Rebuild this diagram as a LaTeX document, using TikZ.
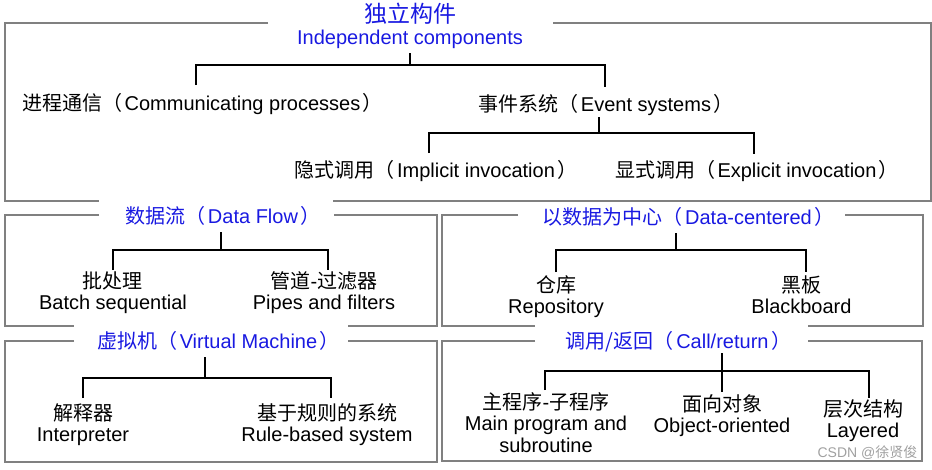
\documentclass[tikz,border=0pt]{standalone}
\usepackage{fontspec}
\setmainfont{Liberation Sans}
\newfontfamily\cjk{Noto Sans CJK SC}
\newcommand{\zh}[1]{{\cjk #1}}
\newcommand{\lpar}{{\cjk （}\hspace{2.5pt}}
\newcommand{\rpar}{\hspace{2.5pt}{\cjk ）}}
\definecolor{ttl}{RGB}{25,25,225}
\definecolor{frm}{RGB}{128,128,128}
\definecolor{wmk}{RGB}{160,160,160}
\begin{document}
\begin{tikzpicture}[x=1pt,y=-1pt,
  frame/.style={draw=frm,line width=1.3pt},
  conn/.style={draw=black,line width=1.8pt},
  txt/.style={font=\fontsize{20}{21.5}\selectfont,inner xsep=0pt},
  one/.style={txt,text height=18pt,text depth=5pt},
  kid/.style={txt,anchor=north,align=center},
  kidone/.style={one,anchor=north},
  ttlnode/.style={one,anchor=base,text=ttl,inner ysep=4pt},
]
\useasboundingbox (0,0) rectangle (932,469);

% frames with gaps
\draw[frame] (268,23) -- (5,23) -- (5,201) -- (99,201);
\draw[frame] (333,201) -- (931,201) -- (931,23) -- (553,23);
\draw[frame] (99,215) -- (5,215) -- (5,326) -- (74,326);
\draw[frame] (348,326) -- (437,326) -- (437,215) -- (334,215);
\draw[frame] (74,341) -- (5,341) -- (5,462) -- (437,462) -- (437,341) -- (348,341);
\draw[frame] (518,215) -- (442,215) -- (442,326) -- (535,326);
\draw[frame] (808,326) -- (923,326) -- (923,215) -- (845,215);
\draw[frame] (535,341) -- (442,341) -- (442,461) -- (922,461) -- (922,341) -- (808,341);

% titles
\node[txt,align=center,text=ttl,anchor=south,inner ysep=4pt] (ic) at (410,53)
  {{\cjk\fontsize{23}{23}\selectfont 独立构件}\\[1pt]Independent components};
\node[ttlnode] (dfT) at (223,223) {\zh{数据流}\lpar Data Flow\rpar};
\node[ttlnode] (vmT) at (218.5,348) {\zh{虚拟机}\lpar Virtual Machine\rpar};
\node[ttlnode] (dcT) at (688.5,224) {\zh{以数据为中心}\lpar Data-centered\rpar};
\node[ttlnode,inner ysep=0pt] (crT) at (678.5,348) {\zh{调用/返回}\lpar Call/return\rpar};

% top box children
\node[kidone,inner ysep=7pt] (cp) at (202.5,85) {\zh{进程通信}\lpar Communicating processes\rpar};
\node[kidone,inner ysep=6pt,text depth=0pt] (es) at (606,87) {\zh{事件系统}\lpar Event systems\rpar};
\node[kidone,inner ysep=6pt] (ii) at (436,153) {\zh{隐式调用}\lpar Implicit invocation\rpar};
\node[kidone,inner ysep=5pt] (ei) at (757,154) {\zh{显式调用}\lpar Explicit invocation\rpar};

% data flow children
\node[kid,inner ysep=0pt] (bs) at (113,270) {\rule{0pt}{18pt}\zh{批处理}\\Batch sequential};
\node[kid,inner ysep=0pt] (pf) at (324,270) {\rule{0pt}{18pt}\zh{管道}-\zh{过滤器}\\Pipes and filters};

% virtual machine children
\node[kid,inner ysep=4pt] (ip) at (83,398) {\rule{0pt}{18pt}\zh{解释器}\\Interpreter};
\node[kid,inner ysep=4pt] (rb) at (327,398) {\rule{0pt}{18pt}\zh{基于规则的系统}\\Rule-based system};

% data-centered children
\node[kid,inner ysep=2pt] (rp) at (556,272) {\rule{0pt}{18pt}\zh{仓库}\\Repository};
\node[kid,inner ysep=2pt] (bb) at (801.5,272) {\rule{0pt}{18pt}\zh{黑板}\\Blackboard};

% call/return children
\node[kid,inner ysep=1pt] (mp) at (546,390) {\rule{0pt}{18pt}\zh{主程序}-\zh{子程序}\\Main program and\\subroutine};
\node[kid,inner ysep=1pt] (oo) at (722,392) {\rule{0pt}{18pt}\zh{面向对象}\\Object-oriented};
\node[kid,inner ysep=0pt] (ly) at (863,398) {\rule{0pt}{18pt}\zh{层次结构}\\Layered};

% watermark
\node[font=\fontsize{14}{14}\selectfont,text=wmk,anchor=base,inner sep=0pt] (wm) at (867.5,457) {CSDN @\zh{徐贤俊}};

% connectors
\draw[conn] (ic.south) -- (ic.south |- 0,65);
\draw[conn] (196,0 |- cp.north) -- (196,65) -- (605,65) -- (605,0 |- es.north);
\draw[conn] (599,0 |- es.south) -- (599,133);
\draw[conn] (429,0 |- ii.north) -- (429,133) -- (754,133) -- (754,0 |- ei.north);

\draw[conn] (221,0 |- dfT.south) -- (221,250);
\draw[conn] (113,0 |- bs.north) -- (113,250) -- (328,250) -- (328,0 |- pf.north);

\draw[conn] (205,0 |- vmT.south) -- (205,378);
\draw[conn] (83,0 |- ip.north) -- (83,378) -- (331,378) -- (331,0 |- rb.north);

\draw[conn] (676,0 |- dcT.south) -- (676,250);
\draw[conn] (556,0 |- rp.north) -- (556,250) -- (806,250) -- (806,0 |- bb.north);

\draw[conn] (722,0 |- crT.south) -- (722,0 |- oo.north);
\draw[conn] (545,0 |- mp.north) -- (545,371) -- (869,371) -- (869,0 |- ly.north);
\end{tikzpicture}
\end{document}
